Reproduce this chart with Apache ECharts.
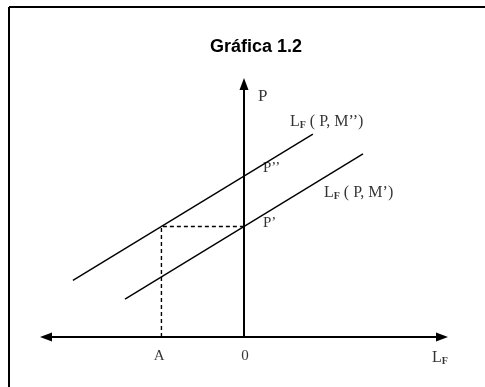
<!DOCTYPE html>
<html>
<head>
<meta charset="utf-8">
<script src="https://cdn.jsdelivr.net/npm/echarts@6/dist/echarts.min.js"></script>
<style>
  html, body { margin: 0; padding: 0; background: #fff; }
  #chart { width: 485px; height: 387px; }
</style>
</head>
<body>
<div id="chart"></div>
<script>
// curve endpoints (x: L_F, y: P)
var upperLine = [[-8.64, 2.24], [3.48, 8.02]]   // L_F(P, M'')
var lowerLine = [[-6.01, 1.5], [6.01, 7.24]]    // L_F(P, M')
var guideLine = [[-4.17, 0], [-4.17, 4.37], [0, 4.37]] // dashed A -> P'

// annotation anchors
var labelNames = ['P', 'LM2', 'P2', 'LM1', 'P1', 'A', '0', 'LF']
var labelX = [0.71, 2.32, 0.96, 4.04, 0.96, -4.29, 0.05, 9.9]
var labelY = [9.49, 8.5, 6.68, 5.69, 4.51, -0.75, -0.75, -0.83]

var serif = 'Liberation Serif'
var rich = {
  m: { fontFamily: serif, fontSize: 16, color: '#000' },
  s: { fontFamily: serif, fontSize: 10, fontWeight: 'bold', color: '#000', padding: [7, 0, 0, 0] }
}
var texts = {
  P: 'P',
  LM2: '{m|L}{s|F}{m| ( P, M’’)}',
  P2: 'P’’',
  LM1: '{m|L}{s|F}{m| ( P, M’)}',
  P1: 'P’',
  A: 'A',
  '0': '0',
  LF: '{m|L}{s|F}'
}

var labelData = labelNames.map(function (n, i) {
  var centered = n === 'A' || n === '0' || n === 'LF'
  return {
    value: [labelX[i], labelY[i]],
    label: {
      show: true,
      formatter: texts[n],
      position: centered ? 'inside' : 'right',
      distance: 0,
      fontFamily: serif,
      fontSize: n === 'P' ? 17 : 15,
      color: '#000',
      rich: rich
    }
  }
})

var myChart = echarts.init(document.getElementById('chart'))
var option = {
  backgroundColor: '#fff',
  animation: false,
  title: {
    text: 'Gráfica 1.2',
    left: 205,
    top: 33,
    textStyle: { fontFamily: 'Liberation Sans', fontSize: 18, fontWeight: 'bold', color: '#000' }
  },
  graphic: [
    // frame, open at the right and bottom as in the scan
    { type: 'line', shape: { x1: 9, y1: 7, x2: 485, y2: 7 }, style: { stroke: '#000', lineWidth: 2 } },
    { type: 'line', shape: { x1: 9, y1: 7, x2: 9, y2: 387 }, style: { stroke: '#000', lineWidth: 2 } }
  ],
  grid: { left: 46, right: 43, top: 84, bottom: 50 },
  xAxis: {
    type: 'value',
    min: -10,
    max: 10,
    splitLine: { show: false },
    axisTick: { show: false },
    axisLabel: { show: false },
    axisLine: {
      onZero: true,
      symbol: ['triangle', 'triangle'],
      symbolSize: [9, 12],
      lineStyle: { color: '#000', width: 2 }
    }
  },
  yAxis: {
    type: 'value',
    min: 0,
    max: 10,
    splitLine: { show: false },
    axisTick: { show: false },
    axisLabel: { show: false },
    axisLine: {
      onZero: true,
      symbol: ['none', 'triangle'],
      symbolSize: [9, 12],
      lineStyle: { color: '#000', width: 2 }
    }
  },
  series: [
    {
      type: 'line',
      data: upperLine,
      symbol: 'none',
      lineStyle: { color: '#000', width: 1.4 }
    },
    {
      type: 'line',
      data: lowerLine,
      symbol: 'none',
      lineStyle: { color: '#000', width: 1.4 }
    },
    {
      type: 'line',
      data: guideLine,
      symbol: 'none',
      lineStyle: { color: '#000', width: 1.4, type: [4, 3] }
    },
    {
      type: 'scatter',
      data: labelData,
      symbolSize: 0,
      clip: false,
      silent: true
    }
  ]
}
option && myChart.setOption(option)
</script>
</body>
</html>
